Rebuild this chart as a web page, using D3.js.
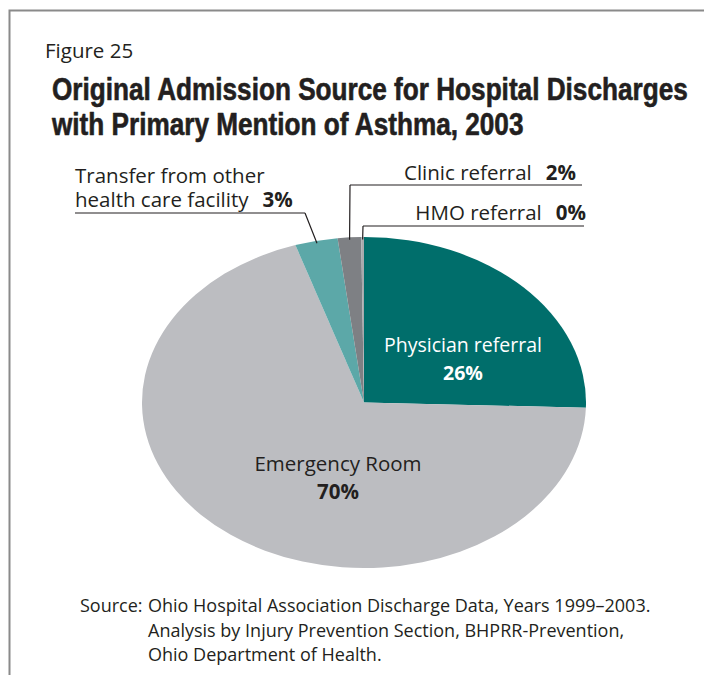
<!DOCTYPE html>
<html>
<head>
<meta charset="utf-8">
<script src="https://cdn.jsdelivr.net/npm/d3@7"></script>
<style>
  html, body { margin: 0; padding: 0; background: #fff; }
  svg { display: block; }
  .body-text { font-family: "Open Sans", "Noto Sans", sans-serif; fill: #231f20; }
  .title { font-family: "Liberation Sans", Arial, sans-serif; font-weight: bold; fill: #231f20;
           stroke: #231f20; stroke-width: 0.6; stroke-linejoin: round; }
</style>
</head>
<body>
<script>
// Admission source shares (percent) for asthma hospital discharges, 2003
const categories = ["Physician referral", "Emergency Room", "Transfer from other health care facility", "Clinic referral", "HMO referral"];
const shares = [25.5, 69.5, 3.1, 1.7, 0.2];
const colors = ["#006e6b", "#bcbdc1", "#5ca8a8", "#7e8084", "#a8aaad"];

const figureLabel = "Figure 25";
const titleLines = ["Original Admission Source for Hospital Discharges", "with Primary Mention of Asthma, 2003"];
const sourceLines = [
  "Ohio Hospital Association Discharge Data, Years 1999\u20132003.",
  "Analysis by Injury Prevention Section, BHPRR-Prevention,",
  "Ohio Department of Health."
];

const W = 704, H = 675;
const cx = 364, cy = 402.5, rx = 222, ry = 165.5;
const pct = d3.format(".0f");

const svg = d3.select("body").append("svg").attr("width", W).attr("height", H);

// frame (top and left rules)
svg.append("path")
  .attr("d", `M9.5,${H} V10.5 H${W}`)
  .attr("fill", "none").attr("stroke", "#8a8a8a").attr("stroke-width", 2);

// headings
svg.append("text").attr("class", "body-text")
  .attr("x", 45).attr("y", 58).attr("font-size", 20.5).text(figureLabel);

// title set in a condensed width: both lines share one horizontal squeeze
const titleG = svg.append("g");
const titleText = titleG.selectAll("text").data(titleLines).join("text")
  .attr("class", "title")
  .attr("x", 0).attr("y", (d, i) => 100 + i * 35)
  .attr("font-size", 30.5)
  .text(d => d);
const natural = titleText.nodes()[0].getComputedTextLength();
const squeeze = 636 / natural;
titleG.attr("transform", `translate(52,0) scale(${squeeze},1)`);

// pie, drawn on a circle and squashed vertically into an ellipse
const data = categories.map((c, i) => ({ name: c, value: shares[i], color: colors[i] }));
const pie = d3.pie().value(d => d.value).sort(null).startAngle(0).endAngle(2 * Math.PI);
const arcs = pie(data);
const arc = d3.arc().innerRadius(0).outerRadius(rx);

const g = svg.append("g").attr("transform", `translate(${cx},${cy}) scale(1,${ry / rx})`);
g.selectAll("path").data(arcs).join("path")
  .attr("d", arc)
  .attr("fill", d => d.data.color);

// point on the ellipse rim at the middle of a slice
function rimPoint(d, k) {
  const a = (d.startAngle + d.endAngle) / 2;
  return [cx + rx * k * Math.sin(a), cy - ry * k * Math.cos(a)];
}

// labels inside the two large slices
const inside = [
  { i: 0, x: 463, y: 352, fill: "#ffffff", size: 19.5 },
  { i: 1, x: 338, y: 471, fill: "#231f20", size: 20.5 }
];
inside.forEach(l => {
  const d = arcs[l.i];
  const t = svg.append("text").attr("class", "body-text")
    .attr("text-anchor", "middle").attr("font-size", l.size)
    .style("fill", l.fill);
  t.append("tspan").attr("x", l.x).attr("y", l.y).text(d.data.name);
  t.append("tspan").attr("x", l.x).attr("y", l.y + 28).attr("font-weight", "bold")
    .text(pct(d.data.value) + "%");
});

// callouts for the small slices: text, underline, leader to the rim
const callouts = [
  { i: 2, lines: ["Transfer from other", "health care facility"], anchor: "start", x: 75, y: 183, ux0: 75, ux1: 305, uy: 213 },
  { i: 3, lines: ["Clinic referral"], anchor: "end", x: 576, y: 180, ux0: 350, ux1: 582, uy: 185 },
  { i: 4, lines: ["HMO referral"], anchor: "end", x: 586, y: 220, ux0: 363, ux1: 584, uy: 226 }
];
callouts.forEach(c => {
  const d = arcs[c.i];
  const t = svg.append("text").attr("class", "body-text")
    .attr("font-size", 20.5).attr("text-anchor", c.anchor);
  c.lines.forEach((ln, j) => {
    t.append("tspan").attr("x", c.x).attr("y", c.y + j * 24).text(ln);
    if (j === c.lines.length - 1) {
      t.append("tspan").attr("font-weight", "bold").attr("dx", 14).text(pct(d.data.value) + "%");
    }
  });
  const p = rimPoint(d, 0.985);
  const leadX = c.anchor === "start" ? c.ux1 : c.ux0;
  svg.append("path")
    .attr("d", `M${c.ux0},${c.uy} H${c.ux1} M${leadX},${c.uy} L${p[0]},${p[1]}`)
    .attr("fill", "none").attr("stroke", "#231f20").attr("stroke-width", 1.2);
});

// source note
const src = svg.append("text").attr("class", "body-text").attr("font-size", 18);
src.append("tspan").attr("x", 80).attr("y", 612).text("Source:");
sourceLines.forEach((s, i) => {
  src.append("tspan").attr("x", 148).attr("y", 612 + i * 24.5).text(s);
});
</script>
</body>
</html>
